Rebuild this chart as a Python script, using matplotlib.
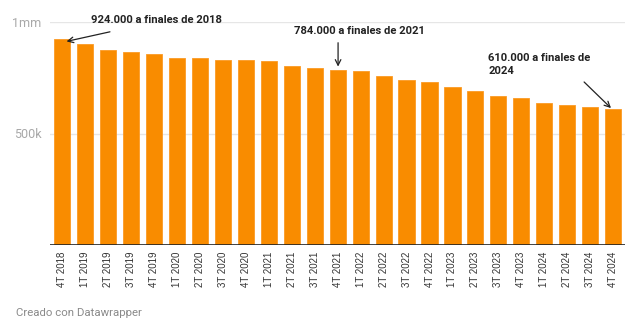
import matplotlib
matplotlib.use("Agg")
import matplotlib.pyplot as plt

quarters = ["4T 2018", "1T 2019", "2T 2019", "3T 2019", "4T 2019",
            "1T 2020", "2T 2020", "3T 2020", "4T 2020",
            "1T 2021", "2T 2021", "3T 2021", "4T 2021",
            "1T 2022", "2T 2022", "3T 2022", "4T 2022",
            "1T 2023", "2T 2023", "3T 2023", "4T 2023",
            "1T 2024", "2T 2024", "3T 2024", "4T 2024"]
values = [924000, 903000, 876000, 865000, 857000,
          839000, 839000, 830000, 830000,
          824000, 801000, 794000, 784000,
          779000, 758000, 740000, 730000,
          707000, 691000, 668000, 658000,
          637000, 628000, 619000, 610000]
ytick_vals = [500000, 1000000]
ytick_labels = ["500k", "1mm"]

W, H = 640, 335
fig = plt.figure(figsize=(W / 100, H / 100), dpi=100)
ax = fig.add_axes([50 / W, 90 / H, 575 / W, 223 / H])

x = list(range(len(quarters)))
ax.bar(x, values, width=0.7, color="#f98c00", edgecolor="#fb9a25", linewidth=0.6, zorder=2)

ax.set_xlim(-0.52, 24.51)
ax.set_ylim(0, 1000000)

for v in ytick_vals:
    ax.axhline(v, color="#e6e6e6", linewidth=1.0, zorder=1)
ax.axhline(0, color="#222222", linewidth=1.2, zorder=3)

for s in ax.spines.values():
    s.set_visible(False)

ax.set_yticks(ytick_vals)
ax.set_yticklabels(ytick_labels, fontfamily="Roboto", fontsize=9, color="#a8a8a8")
ax.tick_params(axis="y", length=0, pad=6)

ax.set_xticks(x)
ax.set_xticklabels(quarters, rotation=90, fontfamily="Liberation Sans", fontsize=7.0, color="#333333",
                   va="top", ha="center")
ax.tick_params(axis="x", length=0, pad=5)

tkw = dict(fontfamily="Roboto", fontweight="bold", fontsize=8.1, color="#222222")
akw = dict(arrowstyle="->", color="#222222", lw=0.9, shrinkA=0, shrinkB=0)

ax.text(4.11, 1009000, "924.000 a finales de 2018", ha="center", va="center", **tkw)
ax.annotate("", xy=(0.20, 913000), xytext=(2.09, 956000), arrowprops=akw)

ax.text(12.97, 960000, "784.000 a finales de 2021", ha="center", va="center", **tkw)
ax.annotate("", xy=(12.02, 800000), xytext=(12.02, 907000), arrowprops=akw)

ax.text(18.55, 839000, "610.000 a finales de", ha="left", va="center", **tkw)
ax.text(18.55, 780000, "2024", ha="left", va="center", **tkw)
ax.annotate("", xy=(23.9, 614000), xytext=(22.73, 731000), arrowprops=akw)

fig.text(16 / W, 1 - 313 / H, "Creado con Datawrapper", fontfamily="Roboto", fontsize=8.2,
         color="#8a8a8a", ha="left", va="center")

fig.savefig("out.png", dpi=100)
